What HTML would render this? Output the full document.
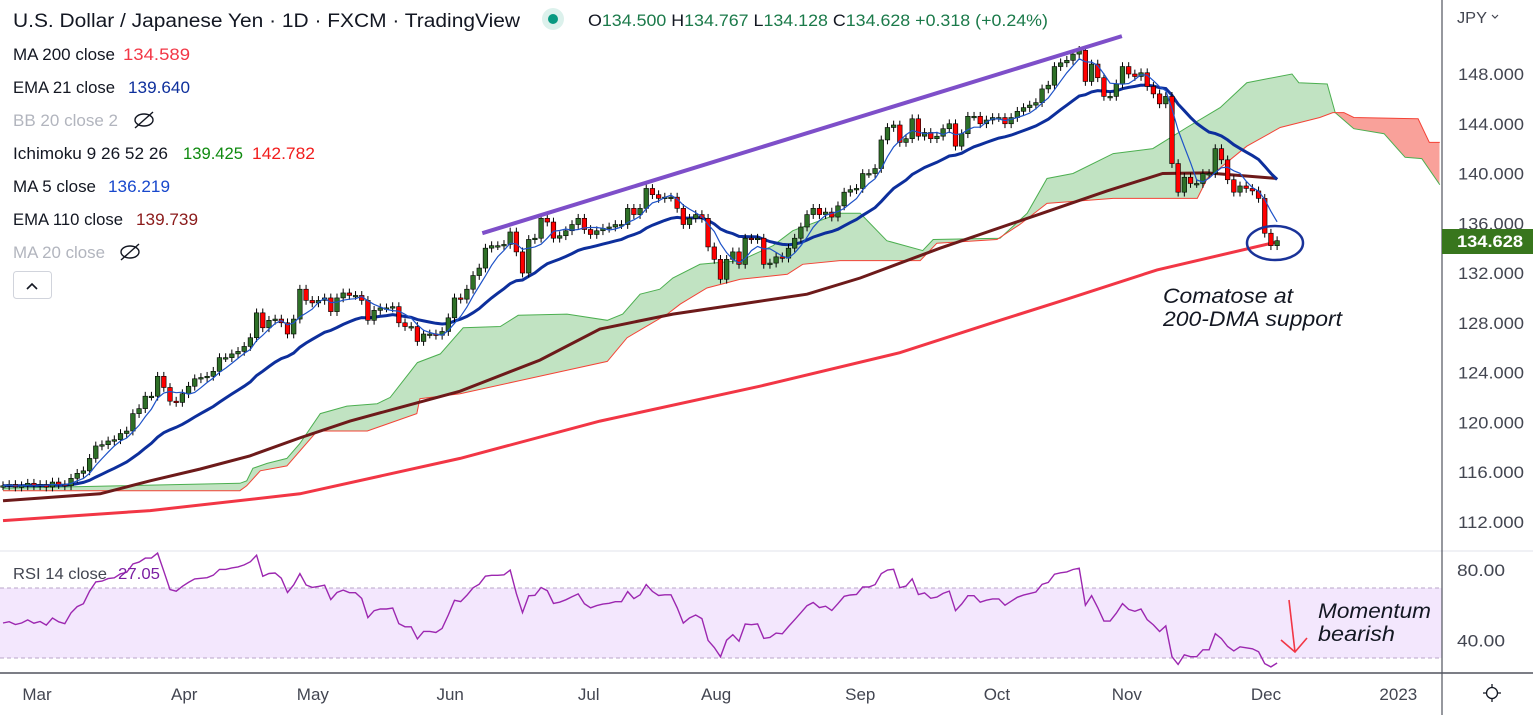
<!DOCTYPE html>
<html><head><meta charset="utf-8">
<style>
body{margin:0;background:#fff;width:1533px;height:715px;overflow:hidden}
svg text{font-family:"Liberation Sans",sans-serif}
</style></head>
<body>
<svg id="chart" width="1533" height="715" xmlns="http://www.w3.org/2000/svg">
  <rect x="0" y="0" width="1533" height="715" fill="#ffffff"/>
  <g id="cloud"></g>
  <g id="lines"></g>
  <g id="candles"></g>
  <g id="ma5g"></g>
  <g id="annot"></g>

  <line x1="0" y1="551" x2="1533" y2="551" stroke="#e0e3eb" stroke-width="1"/>
  <rect x="0" y="588" width="1442" height="70" fill="#f3e7fd"/>
  <line x1="0" y1="588" x2="1442" y2="588" stroke="#b9a6c9" stroke-dasharray="4,3"/>
  <line x1="0" y1="658" x2="1442" y2="658" stroke="#b9a6c9" stroke-dasharray="4,3"/>
  <g id="rsig"></g>
  <text x="13" y="579" font-size="16" fill="#434651" textLength="94">RSI 14 close</text>
  <text x="118" y="579" font-size="16" fill="#7b1fa2" textLength="42">27.05</text>

  <line x1="1442" y1="0" x2="1442" y2="715" stroke="#50535e" stroke-width="1.2"/>
  <line x1="0" y1="673" x2="1533" y2="673" stroke="#50535e" stroke-width="1.5"/>
  <g id="yticks"></g>
  <g id="xticks"></g>
  <text x="1457" y="23" font-size="16" fill="#434651" textLength="30">JPY</text>
  <path d="M1492 15 l3 3 l3 -3" fill="none" stroke="#434651" stroke-width="1.2"/>
  <rect x="1442" y="229" width="91" height="25" fill="#38761d"/>
  <text x="1457" y="247" font-size="17" font-weight="bold" fill="#ffffff" textLength="66">134.628</text>
  <g stroke="#131722" stroke-width="1.3" fill="none">
    <circle cx="1492" cy="693" r="5.5"/>
    <path d="M1492 684v3M1492 699v3M1483 693h3M1498 693h3"/>
  </g>

  <text x="13" y="27" font-size="19" fill="#131722" textLength="507">U.S. Dollar / Japanese Yen · 1D · FXCM · TradingView</text>
  <circle cx="553" cy="19" r="11" fill="#dcf1ec"/>
  <circle cx="553" cy="19" r="5" fill="#089981"/>
  <text x="588" y="26" font-size="17" fill="#131722" textLength="460">O<tspan fill="#1b7a4a">134.500</tspan> H<tspan fill="#1b7a4a">134.767</tspan> L<tspan fill="#1b7a4a">134.128</tspan> C<tspan fill="#1b7a4a">134.628</tspan> <tspan fill="#1b7a4a">+0.318 (+0.24%)</tspan></text>

  <g font-size="17">
    <text x="13" y="60" fill="#131722" textLength="102">MA 200 close</text>
    <text x="123" y="60" fill="#f23645" textLength="67">134.589</text>
    <text x="13" y="93" fill="#131722" textLength="102">EMA 21 close</text>
    <text x="128" y="93" fill="#0d2f9c" textLength="62">139.640</text>
    <text x="13" y="126" fill="#b2b5be" textLength="105">BB 20 close 2</text>
    <g stroke="#131722" stroke-width="1.4" fill="none">
      <ellipse cx="144" cy="120" rx="9" ry="6"/><line x1="135" y1="128" x2="153" y2="112"/>
    </g>
    <text x="13" y="159" fill="#131722" textLength="155">Ichimoku 9 26 52 26</text>
    <text x="183" y="159" fill="#0f8a0f" textLength="60">139.425</text>
    <text x="252" y="159" fill="#f21d1d" textLength="63">142.782</text>
    <text x="13" y="192" fill="#131722" textLength="83">MA 5 close</text>
    <text x="108" y="192" fill="#1848cc" textLength="62">136.219</text>
    <text x="13" y="225" fill="#131722" textLength="110">EMA 110 close</text>
    <text x="136" y="225" fill="#8b1a1a" textLength="62">139.739</text>
    <text x="13" y="258" fill="#b2b5be" textLength="92">MA 20 close</text>
    <g stroke="#131722" stroke-width="1.4" fill="none">
      <ellipse cx="130" cy="252" rx="9" ry="6"/><line x1="121" y1="260" x2="139" y2="244"/>
    </g>
  </g>
  <rect x="13.5" y="271.5" width="38" height="27" rx="3" fill="#fff" stroke="#d1d4dc"/>
  <path d="M27 289 l5 -5 l5 5" fill="none" stroke="#131722" stroke-width="1.6"/>

  <text x="1163" y="303" font-size="21" font-style="italic" fill="#131722" textLength="130">Comatose at</text>
  <text x="1163" y="326" font-size="21" font-style="italic" fill="#131722" textLength="179">200-DMA support</text>
  <text x="1318" y="618" font-size="21" font-style="italic" fill="#131722" textLength="113">Momentum</text>
  <text x="1318" y="641" font-size="21" font-style="italic" fill="#131722" textLength="77">bearish</text>
  <g stroke="#f23645" stroke-width="1.6" fill="none">
    <line x1="1289" y1="600" x2="1295" y2="652"/>
    <path d="M1281 640 L1295 652 L1307 638"/>
  </g>
</svg>
<script>
const closes = [
114.9,115.0,114.8,114.9,115.1,114.9,115.0,114.8,115.2,115.0,114.9,
115.5,115.9,116.1,117.1,118.1,118.2,118.5,118.6,119.1,119.3,
120.7,121.1,122.1,122.1,123.7,122.8,121.7,121.6,122.3,122.9,
123.5,123.6,123.7,124.1,125.2,125.2,125.5,125.7,126.1,126.8,
128.8,127.6,128.2,128.3,128.0,127.1,128.3,130.7,129.8,129.6,
129.8,130.0,128.9,130.0,130.4,130.2,130.2,129.8,128.2,129.0,
129.2,129.2,129.3,128.0,127.7,127.7,126.5,127.1,127.1,127.0,
127.3,128.4,
130.0,129.9,130.7,131.8,132.4,134.0,134.2,134.2,134.3,135.3,
133.7,132.0,134.7,134.8,136.4,136.1,134.8,135.0,135.4,135.9,
136.4,135.5,135.1,135.4,135.6,135.7,135.9,135.9,137.2,136.7,
137.2,138.8,138.3,138.0,138.1,138.1,137.2,135.9,136.4,136.7,
136.4,134.1,133.1,131.5,133.1,133.7,132.7,134.8,134.7,134.8,
132.7,132.8,133.3,133.2,134.0,134.8,135.7,136.7,137.2,136.7,
136.9,136.5,137.4,138.5,138.7,138.8,
140.0,140.0,140.4,142.7,143.7,143.9,142.5,142.8,144.4,143.0,
143.3,142.8,143.0,143.6,144.0,142.2,143.2,144.6,144.6,144.0,
144.3,144.5,144.5,144.0,144.5,145.0,145.3,145.5,145.7,146.8,
147.1,148.6,148.9,149.1,149.6,149.9,147.4,148.8,147.7,146.2,
146.2,147.2,148.6,148.0,147.8,148.1,147.0,146.4,145.6,146.2,
140.8,138.5,139.7,139.2,139.2,140.0,140.0,142.0,141.1,139.5,
138.5,139.0,138.8,138.6,138.0,135.2,134.2,134.6];

const spanAIdx = [0,38.3,39.4,40.4,42.7,45.9,48,51.3,55.6,60.5,62.6,67,70.7,74.4,80.4,83.3,91.2,97.7,100.2,103,106.2,108.3,112.7,119.2,124.5,127.7,135.3,138.6,142.9,148.7,150.4,161.2,165.6,168.8,173,179.5,185.9,191.4,196.8,201.1,208.4,209.5,214.1,215.4,218.4,223.3,226.7,229.4,232.3];
const spanAVal = [114.7,115.1,115.3,116.3,116.7,117.1,118.3,120.7,121.3,121.5,122.0,124.8,125.5,127.6,127.7,128.6,128.7,128.2,128.7,130.3,130.7,131.6,132.7,133.0,134.2,135.4,136.8,136.8,134.6,133.8,134.7,134.8,136.8,139.6,140.0,141.6,142.0,143.7,145.3,147.3,148.0,147.3,147.2,144.9,143.6,143.2,141.3,141.2,139.1];
const spanBIdx = [0,38.3,39.4,41.6,45.9,50.8,58.9,66.9,67.4,73.9,97.7,100.9,107.4,109.5,113.8,119.2,126.8,129.3,135.3,148.3,151.0,160.7,164.4,168.8,179.5,193.1,194.7,201.1,206.5,212.9,215.0,216.8,218.4,228.8,230.6,232.3];
const spanBVal = [114.5,114.5,114.9,116.1,116.5,119.3,119.3,120.7,121.9,122.3,124.9,126.8,128.7,129.5,130.8,131.5,131.9,132.7,133.0,133.0,134.4,134.7,135.9,137.6,138.0,138.0,139.6,142.2,143.7,144.5,144.9,144.9,144.5,144.4,142.5,142.5];
const ema110Idx = [0,15.7,23.8,31.9,39.9,48.0,56.1,64.2,73.9,86.8,96.5,108.3,119.2,130.0,138.6,141.8,151.5,167.7,178.5,187.5,194.7,206];
const ema110Val = [113.7,114.25,115.3,116.25,117.3,118.75,120.1,121.2,122.5,125.0,127.5,128.7,129.5,130.3,131.6,132.2,134.0,136.75,138.6,140.0,140.05,139.6];
const ma200Idx = [0,23.8,48,73.9,96.5,122.4,145,161.2,172,186.6,206];
const ma200Val = [112.1,112.9,114.25,117.1,120.1,122.9,125.6,128.2,129.9,132.25,134.5];
const trendIdx = [77.5,180.9];
const trendVal = [135.2,151.05];
const priceTicks = [148,144,140,136,132,128,124,120,116,112];
const priceTickLabels = ["148.000","144.000","140.000","136.000","132.000","128.000","124.000","120.000","116.000","112.000"];
const rsiTicks = [80,40];
const rsiTickLabels = ["80.00","40.00"];
const monthLabels = ["Mar","Apr","May","Jun","Jul","Aug","Sep","Oct","Nov","Dec","2023"];
const monthIdx = [5.5,29.3,50.1,72.3,94.7,115.3,138.6,160.7,181.7,204.2,225.6];

const NS = "http://www.w3.org/2000/svg";
function X(i){ return 3 + i*6.185; }
function Y(p){ return 74 + (148-p)*12.44; }
function R(v){ return 570 + (80-v)*1.767; }
function interp(ix, vals, i){
  if(i<=ix[0]) return vals[0];
  for(let k=1;k<ix.length;k++){
    if(i<=ix[k]){ const t=(i-ix[k-1])/(ix[k]-ix[k-1]); return vals[k-1]+t*(vals[k]-vals[k-1]); }
  }
  return vals[vals.length-1];
}
function mk(tag, attrs, parent){
  const el=document.createElementNS(NS,tag);
  for(const k in attrs) el.setAttribute(k, attrs[k]);
  parent.appendChild(el); return el;
}
function pts(ix, vals){ return ix.map((i,k)=>X(i).toFixed(1)+","+Y(vals[k]).toFixed(1)).join(" "); }

const cloud=document.getElementById('cloud');
(function(){
  const end=spanAIdx[spanAIdx.length-1];
  let gTop=[],gBot=[],rTop=[],rBot=[];
  for(let i=0;i<=end+0.001;i+=0.25){
    const ya=Y(interp(spanAIdx,spanAVal,i)), yb=Y(interp(spanBIdx,spanBVal,i)), lo=Math.max(ya,yb), x=X(i).toFixed(1);
    gTop.push(x+","+ya.toFixed(1)); gBot.unshift(x+","+lo.toFixed(1));
    rTop.push(x+","+yb.toFixed(1)); rBot.unshift(x+","+lo.toFixed(1));
  }
  const g=mk('polygon',{points:gTop.concat(gBot).join(" "),fill:"rgba(76,175,80,0.35)"},cloud);
  
  
  const r=mk('polygon',{points:rTop.concat(rBot).join(" "),fill:"rgba(244,67,54,0.5)"},cloud);
  
  
  const la=mk('polyline',{points:pts(spanAIdx,spanAVal),fill:"none",stroke:"#4caf50","stroke-width":1},cloud);
  
  
  const lb=mk('polyline',{points:pts(spanBIdx,spanBVal),fill:"none",stroke:"#f44336","stroke-width":1},cloud);
  
  
})();

const lines=document.getElementById('lines');
const m200=mk('polyline',{points:pts(ma200Idx,ma200Val),fill:"none",stroke:"#f23645","stroke-width":3},lines);


const e110=mk('polyline',{points:pts(ema110Idx,ema110Val),fill:"none",stroke:"#6d1a1a","stroke-width":3},lines);



const idxs=closes.map((c,i)=>i);
const ema21=[]; {let e=closes[0]; const k=2/22; closes.forEach(c=>{e=c*k+e*(1-k); ema21.push(e);});}
const ma5=closes.map((c,i)=>{const s=closes.slice(Math.max(0,i-4),i+1); return s.reduce((a,b)=>a+b,0)/s.length;});
const e21=mk('polyline',{points:pts(idxs,ema21),fill:"none",stroke:"#0d2f9c","stroke-width":3},lines);



const cg=document.getElementById('candles');
closes.forEach((c,i)=>{
  const o = i===0 ? c : closes[i-1];
  const up = c>=o;
  const hi=Math.max(o,c)+0.35, lo=Math.min(o,c)-0.35;
  const x=X(i);
  const w=mk('line',{x1:x,y1:Y(hi),x2:x,y2:Y(lo),stroke:"#000","stroke-width":1},cg);
  
  
  const top=Y(Math.max(o,c)), h=Math.max(1.5,Y(Math.min(o,c))-top);
  const b=mk('rect',{x:x-2.3,y:top,width:4.6,height:h,fill:up?"#2e7027":"#ff0000",stroke:"#000","stroke-width":0.6},cg);
  
  
});
const m5g=document.getElementById('ma5g');
const m5=mk('polyline',{points:pts(idxs,ma5),fill:"none",stroke:"#1e53c8","stroke-width":1.2},m5g);



const an=document.getElementById('annot');
const tl=mk('polyline',{points:pts(trendIdx,trendVal),fill:"none",stroke:"#7e4fc9","stroke-width":4},an);


const el=mk('ellipse',{cx:1275,cy:243,rx:28,ry:17,fill:"none",stroke:"#1a3399","stroke-width":2.5},an);



const rsi=[]; {
  let ag=0.25, al=0.25;
  closes.forEach((c,i)=>{
    if(i>0){ const d=c-closes[i-1]; ag=(ag*13+Math.max(d,0))/14; al=(al*13+Math.max(-d,0))/14; }
    rsi.push(100-100/(1+ag/al));
  });
}
const rg=document.getElementById('rsig');
const rl=mk('polyline',{points:rsi.map((v,i)=>X(i).toFixed(1)+","+R(v).toFixed(1)).join(" "),fill:"none",stroke:"#9c27b0","stroke-width":1.4},rg);



const yt=document.getElementById('yticks');
priceTicks.forEach((p,k)=>{
  const t=mk('text',{x:1458,y:Y(p)+6,"font-size":17,fill:"#434651",textLength:66},yt);
  t.textContent=priceTickLabels[k];
  
  
});
rsiTicks.forEach((v,k)=>{
  const t=mk('text',{x:1457,y:R(v)+6,"font-size":17,fill:"#434651",textLength:48},yt);
  t.textContent=rsiTickLabels[k];
  
  
});
const xt=document.getElementById('xticks');
monthLabels.forEach((m,k)=>{
  const t=mk('text',{x:X(monthIdx[k]),y:700,"font-size":17,fill:"#434651","text-anchor":"middle"},xt);
  t.textContent=m;
  
  
});
document.querySelectorAll('text[textLength]').forEach(t=>t.setAttribute('lengthAdjust','spacingAndGlyphs'));
</script>
</body></html>
